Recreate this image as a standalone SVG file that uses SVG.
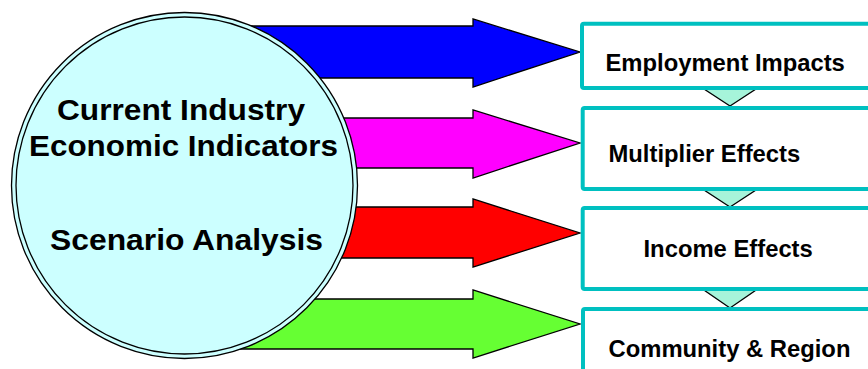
<svg xmlns="http://www.w3.org/2000/svg" width="868" height="369" viewBox="0 0 868 369">
<style>
.arrow{stroke:#000;stroke-width:1.3;stroke-linejoin:miter}
.box{fill:#fff;stroke:#00C0C0;stroke-width:4}
.tri{fill:#A6F4DA;stroke:#000;stroke-width:1.2}
.lbl{font-family:"Liberation Sans",Arial,sans-serif;font-weight:bold;fill:#000}
.big{font-size:29px}
.small{font-size:23.8px}
</style>
<rect width="868" height="369" fill="#fff"/>
<g id="connectors">
<polygon class="arrow" fill="#0000FF" points="200,26 473,26 473,19 580,52 473,87 473,78 200,78"/>
<polygon class="arrow" fill="#FF00FF" points="200,118 473,118 473,110 580,143 473,178 473,168 200,168"/>
<polygon class="arrow" fill="#FF0000" points="200,207 473,207 473,199 580,233 473,267 473,258 200,258"/>
<polygon class="arrow" fill="#66FF33" points="200,299 473,299 473,290 580,324 473,358 473,349 200,349"/>
<polygon class="tri" points="701,87 759,87 730,106"/>
<polygon class="tri" points="701,188 759,188 730,207"/>
<polygon class="tri" points="701,288 759,288 730,308"/>
</g>
<g id="source">
<circle cx="184.5" cy="185.5" r="173" fill="#CCFFFF" stroke="#000" stroke-width="1.3"/>
<circle cx="184.5" cy="185.5" r="168.5" fill="none" stroke="#000" stroke-width="1.3"/>
<text class="lbl big" x="57" y="119.5" textLength="248" lengthAdjust="spacingAndGlyphs">Current Industry</text>
<text class="lbl big" x="29" y="156" textLength="309" lengthAdjust="spacingAndGlyphs">Economic Indicators</text>
<text class="lbl big" x="50" y="250" textLength="273" lengthAdjust="spacingAndGlyphs">Scenario Analysis</text>
</g>
<g id="employment">
<rect class="box" x="582" y="23.7" width="320" height="64.3" rx="2"/>
<text class="lbl small" x="605.5" y="70.7">Employment Impacts</text>
</g>
<g id="multiplier">
<rect class="box" x="582.7" y="108" width="320" height="81" rx="2"/>
<text class="lbl small" x="608.5" y="161.7">Multiplier Effects</text>
</g>
<g id="income">
<rect class="box" x="582.7" y="208" width="320" height="81" rx="2"/>
<text class="lbl small" x="643.5" y="256.7">Income Effects</text>
</g>
<g id="community">
<rect class="box" x="583" y="309" width="320" height="90" rx="2"/>
<text class="lbl small" x="608.5" y="356.7">Community &amp; Region</text>
</g>
</svg>
